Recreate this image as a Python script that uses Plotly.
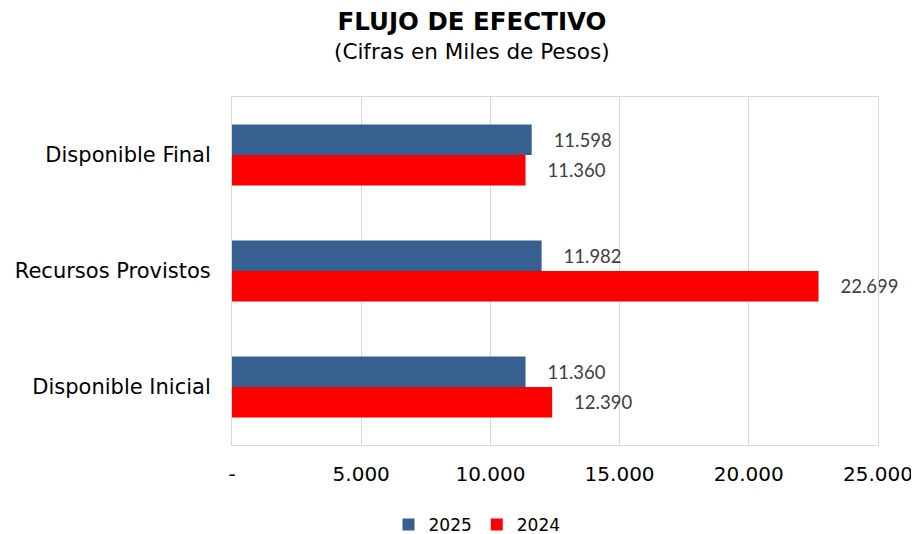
import plotly.graph_objects as go

categories = ["Disponible Final", "Recursos Provistos", "Disponible Inicial"]
values_2025 = [11598, 11982, 11360]
values_2024 = [11360, 22699, 12390]
tick_values = [0, 5000, 10000, 15000, 20000, 25000]
tick_labels = ["-", "5.000", "10.000", "15.000", "20.000", "25.000"]

# page body has an 8px default margin, so the figure is drawn at (8, 8)
W, H = 911, 526
label_font = dict(family="Lato", size=18.5, color="#404040")
pad = "\u00a0" * 4

fig = go.Figure()
fig.add_trace(go.Bar(
    name="2025", y=categories, x=values_2025, orientation="h",
    marker=dict(color="#36608F", line=dict(width=0)),
    texttemplate=pad + "%{x:,.0f}", textposition="outside",
    textfont=label_font, cliponaxis=False,
))
fig.add_trace(go.Bar(
    name="2024", y=categories, x=values_2024, orientation="h",
    marker=dict(color="#FF0000", line=dict(width=0)),
    texttemplate=pad + "%{x:,.0f}", textposition="outside",
    textfont=label_font, cliponaxis=False,
))

fig.update_layout(
    width=W, height=H,
    margin=dict(l=224, r=41, t=89, b=89, autoexpand=False),
    paper_bgcolor="white", plot_bgcolor="white",
    separators=",.",
    barmode="group", bargap=0.474, bargroupgap=0,
    font=dict(family="DejaVu Sans", color="black"),
    title=dict(
        text="<b>FLUJO DE EFECTIVO</b>",
        font=dict(family="DejaVu Sans", size=24.5, color="black"),
        x=464 / W, xanchor="center", xref="container",
        y=1 - 13 / H, yanchor="middle", yref="container",
    ),
    annotations=[dict(
        text="(Cifras en Miles de Pesos)",
        font=dict(family="DejaVu Sans", size=21.5, color="black"),
        xref="paper", yref="paper",
        x=(472 - 232) / 646, y=(445 - 51) / 348,
        xanchor="center", yanchor="middle", showarrow=False,
    )],
    xaxis=dict(
        range=[0, 25000], tickvals=tick_values, ticktext=tick_labels,
        showgrid=True, gridcolor="#D9D9D9", gridwidth=1,
        showline=True, linecolor="#D9D9D9", linewidth=1, mirror=True,
        zeroline=False, ticks="", ticklabelstandoff=11, automargin=False,
        tickfont=dict(family="DejaVu Sans", size=20, color="black"),
    ),
    yaxis=dict(
        autorange="reversed", showgrid=False,
        showline=True, linecolor="#D9D9D9", linewidth=1, mirror=True,
        ticks="", ticklabelstandoff=16, automargin=False,
        tickfont=dict(family="DejaVu Sans", size=21, color="black"),
    ),
    legend=dict(
        orientation="h", xref="container", yref="container",
        x=469 / W, xanchor="center", y=(H - 517) / H, yanchor="middle",
        font=dict(family="DejaVu Sans", size=17, color="black"),
        itemwidth=30, traceorder="normal",
    ),
)

fig.write_html("out.html")
